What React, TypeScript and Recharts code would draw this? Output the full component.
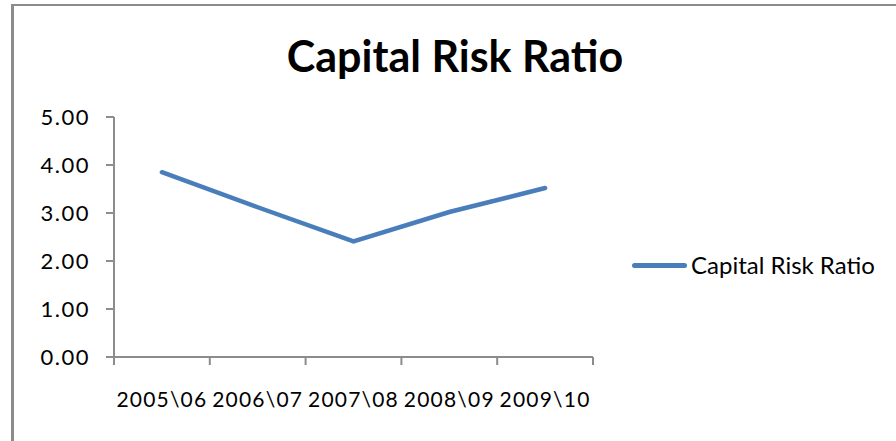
import React from "react"
import { Line, LineChart, XAxis, YAxis } from "recharts"

const categories = ["2005\\06", "2006\\07", "2007\\08", "2008\\09", "2009\\10"]
const capitalRiskRatio = [3.85, 3.12, 2.41, 3.02, 3.52]
const yTicks = [0, 1, 2, 3, 4, 5]

const seriesName = "Capital Risk Ratio"
const lineColor = "#4a7ebb"
const axisColor = "#8c8c8c"
const font = "Lato, 'Open Sans', sans-serif"

const chartData = categories.map((c, i) => ({ period: c, ratio: capitalRiskRatio[i] }))
// tick marks sit on the category boundaries, like Excel does
const edgeTicks = [...categories.map((_, i) => i), categories.length]

export default function App() {
  return (
    <div
      style={{
        position: "fixed",
        left: 0,
        top: 0,
        width: 896,
        height: 441,
        overflow: "hidden",
        background: "#fff",
        fontFamily: font,
      }}
    >
      <div
        style={{
          position: "absolute",
          left: 11,
          top: 4,
          width: 1000,
          height: 1000,
          borderLeft: `3px solid ${axisColor}`,
          borderTop: `2px solid ${axisColor}`,
        }}
      />

      <div
        style={{
          position: "absolute",
          left: 0,
          width: 910,
          top: 30,
          textAlign: "center",
          fontSize: 43,
          fontWeight: 700,
          lineHeight: "52px",
          color: "#000",
        }}
      >
        {seriesName}
      </div>

      <LineChart
        width={896}
        height={441}
        data={chartData}
        margin={{ top: 117, right: 303, bottom: 36, left: 0 }}
        style={{ position: "absolute", left: 0, top: 0 }}
      >
        <XAxis
          xAxisId="b-cat"
          dataKey="period"
          scale="band"
          axisLine={false}
          tickLine={false}
          tickSize={0}
          tickMargin={27}
          height={40}
          interval={0}
          tick={{ fill: "#000", fontSize: 21, fontFamily: font, letterSpacing: 1.2 }}
        />
        <XAxis
          xAxisId="a-edges"
          type="number"
          dataKey={(d: { period: string }) => categories.indexOf(d.period)}
          domain={[0, categories.length]}
          ticks={edgeTicks}
          allowDataOverflow
          interval={0}
          tick={() => <g />}
          tickSize={8}
          height={8}
          axisLine={{ stroke: axisColor, strokeWidth: 2 }}
          tickLine={{ stroke: axisColor, strokeWidth: 2 }}
        />
        <YAxis
          domain={[0, 5]}
          ticks={yTicks}
          width={114}
          tickSize={8}
          tickMargin={16}
          tickFormatter={(v: number) => v.toFixed(2)}
          axisLine={{ stroke: axisColor, strokeWidth: 2 }}
          tickLine={{ stroke: axisColor, strokeWidth: 2 }}
          tick={{ fill: "#000", fontSize: 22, fontFamily: font, letterSpacing: 1.5 }}
        />
        <Line
          xAxisId="b-cat"
          type="linear"
          dataKey="ratio"
          name={seriesName}
          stroke={lineColor}
          strokeWidth={4.5}
          strokeLinecap="round"
          dot={false}
          activeDot={false}
          isAnimationActive={false}
        />
      </LineChart>

      <div
        style={{
          position: "absolute",
          left: 632,
          top: 251,
          display: "flex",
          alignItems: "center",
          height: 28,
        }}
      >
        <div style={{ width: 55, height: 5, borderRadius: 3, background: lineColor, marginRight: 4 }} />
        <span style={{ fontSize: 24, color: "#000", lineHeight: "28px" }}>{seriesName}</span>
      </div>
    </div>
  )
}
